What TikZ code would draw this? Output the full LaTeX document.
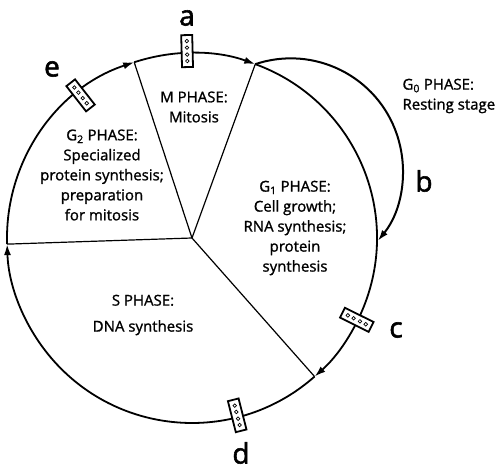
\documentclass[tikz,border=0pt]{standalone}
\usepackage{fontspec}
\setmainfont{Open Sans}[FakeBold=1.2]
\newfontfamily\letterfont{Open Sans}[FakeBold=2]
\usetikzlibrary{arrows.meta, calc}

\tikzset{
  cycleline/.style={line width=1.8pt, -{Latex[length=11pt,width=7pt]}},
  spoke/.style={line width=1.2pt},
  restline/.style={line width=2pt, -{Latex[length=11pt,width=7pt]}},
  phase/.style={align=center, font=\fontsize{15}{20}\selectfont},
  tagbox/.style={draw, line width=1.8pt, fill=white, rectangle,
    minimum width=32pt, minimum height=11pt, inner sep=0pt},
  letter/.style={font=\letterfont\fontsize{28}{30}\selectfont}
}

\begin{document}
\begin{tikzpicture}[x=1pt,y=1pt]
    \useasboundingbox (-192,-231) rectangle (307,238);
    \coordinate (hub) at (0,0);
    \coordinate (sg2) at (181.9:185);
    \coordinate (g2m) at (108.2:185);
    \coordinate (mg1) at (70:185);
    \coordinate (g1s) at (-48.5:185);

    \draw[spoke] (hub) -- (sg2);
    \draw[spoke] (hub) -- (g2m);
    \draw[spoke] (hub) -- (mg1);
    \draw[spoke] (hub) -- (g1s);

    \draw[cycleline] (sg2) arc[start angle=181.9, end angle=108.2, radius=185pt];
    \draw[cycleline] (g2m) arc[start angle=108.2, end angle=70, radius=185pt];
    \draw[cycleline] (mg1) arc[start angle=70, end angle=-48.5, radius=185pt];
    \draw[cycleline] (g1s) arc[start angle=-48.5, end angle=-178.1, radius=185pt];

    \draw[restline] (mg1) arc[start angle=108.5, end angle=-39, radius=112pt];

    \foreach \ang/\dist/\name in {91.5/187/a, 128/181/e, -26.4/184/c, -75.7/183/d} {
        \node[tagbox, rotate=\ang] (tag-\name) at (\ang:\dist) {};
        \foreach \s in {-10,-3.5,3.5,10}
            \draw[line width=0.7pt] ($(tag-\name.center)+(\ang:\s)$) circle[radius=1.8pt];
    }

    \node[phase] (m-txt) at (2,131) {M PHASE:\\Mitosis};
    \node[phase] (g2-txt) at (-90,63) {G\textsubscript{2} PHASE:\\Specialized\\protein synthesis;\\preparation\\for mitosis};
    \node[phase] (g1-txt) at (103,10) {G\textsubscript{1} PHASE:\\Cell growth;\\RNA synthesis;\\protein\\synthesis};
    \node[phase, align=left, anchor=west] (g0-txt) at (207,142) {G\textsubscript{0} PHASE:\\Resting stage};
    \node[phase] (s-txt) at (-49,-77) {S PHASE:\\[6pt]DNA synthesis};

    \node[letter] (lbl-a) at (-5,220) {a};
    \node[letter] (lbl-b) at (232,57) {b};
    \node[letter] (lbl-c) at (204,-92) {c};
    \node[letter] (lbl-d) at (49,-215) {d};
    \node[letter] (lbl-e) at (-140,169) {e};
\end{tikzpicture}
\end{document}
